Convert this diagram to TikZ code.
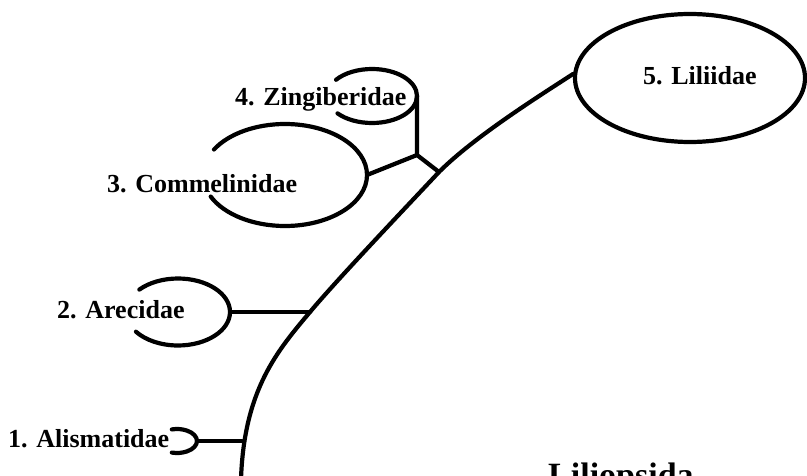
\documentclass[tikz,border=0pt]{standalone}
\usepackage{fontspec}
\setmainfont{Liberation Serif}
\usetikzlibrary{shapes.geometric}
\begin{document}
\begin{tikzpicture}[x=1pt,y=1pt,
  ln/.style={line width=4.2pt, line cap=round, line join=round},
  lbl/.style={font=\fontsize{26}{30}\selectfont\bfseries, inner sep=0pt, anchor=base west},
  ]
\useasboundingbox (0,0) rectangle (807,475);
% Liliidae ellipse
\node[draw, ln, ellipse, minimum width=230pt, minimum height=128pt, inner sep=0pt] (lil) at (690,397) {};
% junction coordinates
\coordinate (base) at (241,-4);
\coordinate (ja) at (242,34);
\coordinate (jr) at (310,163);
\coordinate (jc) at (439,303);
\coordinate (bp) at (417,320);
\coordinate (zr) at (417,379);
\coordinate (cr) at (367,300);
\coordinate (ar) at (230,163);
\coordinate (alr) at (197,34);
% main curve
\draw[ln] (base) .. controls +(88:90) and +(230:50) .. (jr)
  .. controls +(50:45) and +(227:45) .. (jc)
  .. controls +(45:50) and +(213:40) .. (lil.178);
% open arcs
\draw[ln] (zr) arc[start angle=0, end angle=143, x radius=45pt, y radius=27pt]
          (zr) arc[start angle=0, end angle=-140, x radius=45pt, y radius=27pt];
\draw[ln] (cr) arc[start angle=0, end angle=150, x radius=82pt, y radius=51pt]
          (cr) arc[start angle=0, end angle=-155, x radius=82pt, y radius=51pt];
\draw[ln] (ar) arc[start angle=0, end angle=138, x radius=52pt, y radius=33.5pt]
          (ar) arc[start angle=0, end angle=-144, x radius=52pt, y radius=33.5pt];
\draw[ln] (alr) arc[start angle=0, end angle=105, x radius=20pt, y radius=12pt]
          (alr) arc[start angle=0, end angle=-105, x radius=20pt, y radius=12pt];
% branches
\draw[ln] (alr) -- (ja);
\draw[ln] (ar) -- (jr);
\draw[ln] (zr) -- (bp) -- (jc);
\draw[ln] (bp) -- (cr);
% labels
\node[lbl] (t1) at (8,28) {1. Alismatidae};
\node[lbl] (t2) at (57,157) {2. Arecidae};
\node[lbl] (t3) at (107,283) {3. Commelinidae};
\node[lbl] (t4) at (235,369) {4. Zingiberidae};
\node[lbl] (t5) at (643,390) {5. Liliidae};
\node[lbl, font=\fontsize{34}{40}\selectfont\bfseries] (t6) at (548,-11) {Liliopsida};
\end{tikzpicture}
\end{document}
